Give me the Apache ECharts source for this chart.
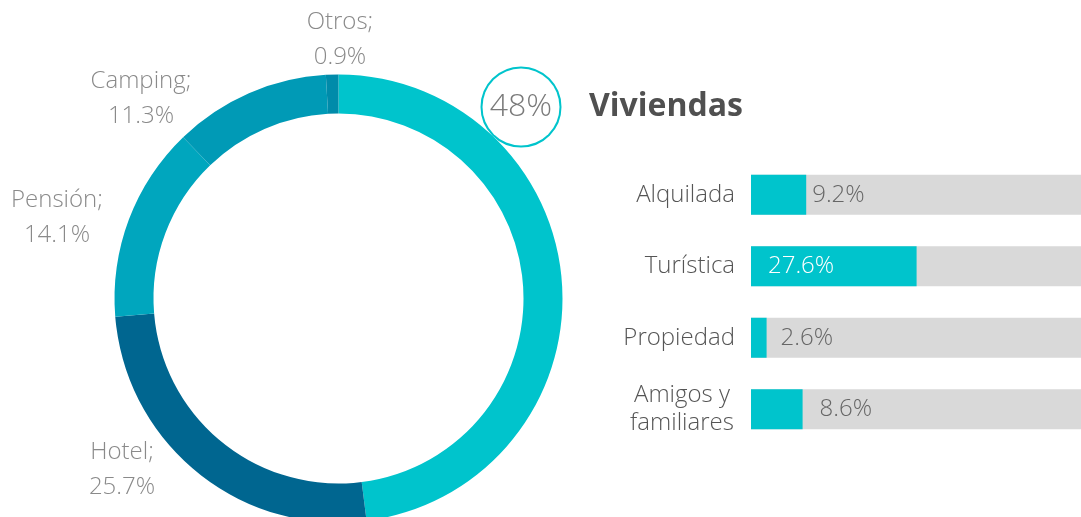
<!DOCTYPE html>
<html><head><meta charset="utf-8">
<script src="https://cdn.jsdelivr.net/npm/echarts@6/dist/echarts.min.js"></script>
<style>html,body{margin:0;padding:0;background:#fff}#c{width:1081px;height:517px}</style>
</head><body><div id="c"></div>
<script>
// Data
const alojCategories = ['Viviendas', 'Hotel', 'Pensión', 'Camping', 'Otros'];
const alojValues = [48, 25.7, 14.1, 11.3, 0.9];
const vivCategories = ['Alquilada', 'Turística', 'Propiedad', 'Amigos y\nfamiliares'];
const vivValues = [9.2, 27.6, 2.6, 8.6];
const titleText = 'Viviendas';

// Styles / layout
const sliceColors = ['#00C4CC', '#006690', '#00A6BE', '#009AB6', '#008BAA'];
const labelAnchors = [[521, 107], [122, 470], [57, 218], [141, 99], [340, 40]];
const barLabelGap = [6, 17, 14, 17];
const FONT = '"Open Sans", "Noto Sans", sans-serif';

const chart = echarts.init(document.getElementById('c'), null, {renderer: 'canvas'});
chart.setOption({
  animation: false,
  title: {
    text: titleText, left: 584, top: 86,
    textStyle: {fontFamily: FONT, fontSize: 32, fontWeight: 'bold', color: '#505050'}
  },
  grid: {left: 751, right: 0, top: 159, height: 286},
  xAxis: {type: 'value', min: 0, max: 55, show: false},
  yAxis: {
    type: 'category', data: vivCategories, inverse: true,
    axisLine: {show: false}, axisTick: {show: false},
    axisLabel: {
      fontFamily: FONT, fontSize: 24, fontWeight: 300, color: '#555', margin: 16, lineHeight: 28, align: 'right',
      formatter: function (v) {
        return v.indexOf('\n') >= 0 ? v.split('\n').map(s => '{c|' + s + '}').join('\n') : v;
      },
      rich: {c: {width: 106, align: 'center', fontFamily: FONT, fontSize: 24, fontWeight: 300, color: '#555', lineHeight: 28}}
    }
  },
  series: [
    {
      type: 'pie', center: [338.5, 298.5], radius: [185, 224],
      startAngle: 90, clockwise: true, avoidLabelOverlap: false,
      itemStyle: {borderWidth: 0},
      data: alojCategories.map((n, i) => {
        const d = {name: n, value: alojValues[i], itemStyle: {color: sliceColors[i]}};
        if (i === 0) {
          d.label = {
            formatter: '{c}%', fontSize: 32, color: '#7a7a7a',
            width: 77, height: 77, lineHeight: 77, align: 'center',
            borderRadius: 40, borderWidth: 2, borderColor: '#00C4CC', backgroundColor: '#fff'
          };
        }
        return d;
      }),
      label: {
        show: true, position: 'outside', formatter: '{b};\n{c}%',
        fontFamily: FONT, fontSize: 24, fontWeight: 300, color: '#8a8a8a', lineHeight: 35, align: 'center'
      },
      labelLine: {show: false},
      labelLayout: function (p) {
        const a = labelAnchors[p.dataIndex];
        return {x: a[0], y: a[1], align: 'center', verticalAlign: 'middle'};
      }
    },
    {
      type: 'bar', barWidth: 40,
      showBackground: true, backgroundStyle: {color: '#d9d9d9'},
      itemStyle: {color: '#00C4CC'},
      label: {
        show: true, position: 'right', formatter: '{c}%',
        fontFamily: FONT, fontSize: 24, fontWeight: 300, color: '#666'
      },
      data: vivValues.map((v, i) => i === 1
        ? {value: v, label: {position: 'insideLeft', distance: barLabelGap[i], color: '#fff'}}
        : {value: v, label: {distance: barLabelGap[i]}})
    }
  ]
});
</script></body></html>
